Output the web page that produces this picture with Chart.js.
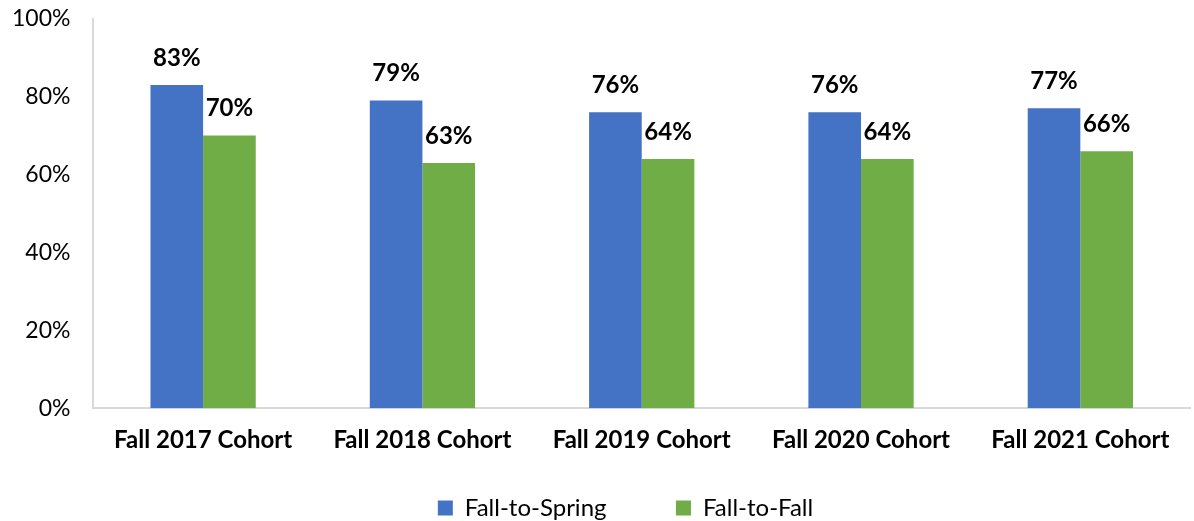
<!DOCTYPE html>
<html>
<head>
<meta charset="utf-8">
<script src="https://cdn.jsdelivr.net/npm/chart.js@4"></script>
<style>
  html, body { margin: 0; padding: 0; background: #fff; }
  #wrap { width: 1194px; height: 521px; }
</style>
</head>
<body>
<div id="wrap"><canvas id="retentionChart"></canvas></div>
<script>
// Data retensi
const cohorts = ['Fall 2017 Cohort', 'Fall 2018 Cohort', 'Fall 2019 Cohort', 'Fall 2020 Cohort', 'Fall 2021 Cohort'];
const fallToSpring = [83, 79, 76, 76, 77];
const fallToFall = [70, 63, 64, 64, 66];
const yTicks = [0, 20, 40, 60, 80, 100];

const FONT = 'Lato, "Open Sans", sans-serif';

// label persen di atas batang
const valueLabels = {
    id: 'valueLabels',
    afterDatasetsDraw(chart) {
        const ctx = chart.ctx;
        ctx.save();
        ctx.font = 'bold 24px ' + FONT;
        ctx.fillStyle = '#000';
        ctx.textAlign = 'center';
        ctx.textBaseline = 'bottom';
        chart.data.datasets.forEach((ds, i) => {
            chart.getDatasetMeta(i).data.forEach((bar, j) => {
                ctx.fillText(ds.data[j] + '%', bar.x, bar.y - 15);
            });
        });
        ctx.restore();
    }
};

// geser legenda sedikit ke kanan seperti di Excel
const legendShift = {
    id: 'legendShift',
    afterLayout(chart) {
        chart.legend.left += 36;
        chart.legend.right += 36;
    }
};

const config = {
    type: 'bar',
    data: {
        labels: cohorts,
        datasets: [
            {
                label: 'Fall-to-Spring',
                data: fallToSpring,
                backgroundColor: '#4472c4',
                categoryPercentage: 0.48,
                barPercentage: 1
            },
            {
                label: 'Fall-to-Fall',
                data: fallToFall,
                backgroundColor: '#70ad47',
                categoryPercentage: 0.48,
                barPercentage: 1
            }
        ]
    },
    options: {
        responsive: true,
        maintainAspectRatio: false,
        animation: false,
        layout: { padding: { top: 0, right: 4, left: -11, bottom: -9 } },
        plugins: {
            tooltip: { enabled: false },
            legend: {
                position: 'bottom',
                labels: {
                    color: '#000',
                    boxWidth: 15,
                    boxHeight: 15,
                    padding: 8,
                    font: { family: FONT, size: 24 },
                    generateLabels(chart) {
                        const items = Chart.defaults.plugins.legend.labels.generateLabels(chart);
                        items[0].text = items[0].text + '          ';
                        return items;
                    }
                }
            }
        },
        scales: {
            x: {
                grid: { display: false, drawTicks: false },
                border: { color: '#d9d9d9', width: 2 },
                ticks: {
                    color: '#000',
                    padding: 18,
                    font: { family: FONT, size: 24, weight: 'bold' }
                },
                afterFit(scale) {
                    scale.height += 15;
                }
            },
            y: {
                min: 0,
                max: 100,
                afterBuildTicks(axis) {
                    axis.ticks = yTicks.map(v => ({ value: v }));
                },
                afterFit(scale) {
                    // jangan pakai padding tick di atas sumbu
                    scale.paddingTop = Math.max(scale.paddingTop - 18, 0);
                },
                grid: { display: false, drawTicks: false },
                border: { color: '#d9d9d9', width: 2 },
                ticks: {
                    color: '#000',
                    padding: 23,
                    font: { family: FONT, size: 23 },
                    callback: v => v + '%'
                }
            }
        }
    },
    plugins: [valueLabels, legendShift]
};

window.onload = () => {
    const ctx = document.getElementById('retentionChart').getContext('2d');
    new Chart(ctx, config);
};
</script>
</body>
</html>
